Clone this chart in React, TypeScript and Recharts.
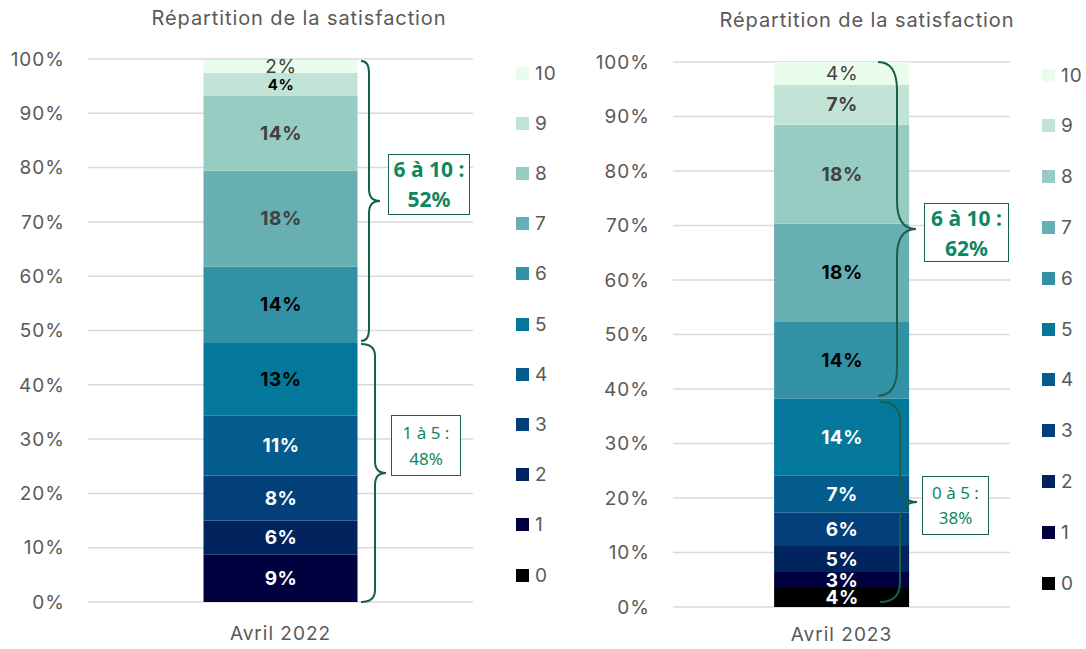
import { BarChart, Bar, XAxis, YAxis, CartesianGrid, LabelList } from 'recharts'

const SCORES = ['0', '1', '2', '3', '4', '5', '6', '7', '8', '9', '10']
const VALUES_2022 = [0, 8.7, 6.3, 8.3, 11.0, 13.4, 14.1, 17.6, 13.8, 4.2, 2.4]
const VALUES_2023 = [3.5, 2.9, 4.8, 6.1, 6.8, 14.1, 14.1, 18.0, 18.2, 7.3, 4.2]
const Y_TICKS = [0, 10, 20, 30, 40, 50, 60, 70, 80, 90, 100]
const CATEGORY_2022 = 'Avril 2022'
const CATEGORY_2023 = 'Avril 2023'
const TITLE = 'Répartition de la satisfaction'

const COLORS = [
  '#000000', '#00003F', '#01235E', '#033F79', '#045C8D', '#03789B',
  '#3391A6', '#67AFB3', '#96CCC2', '#C1E4D7', '#EAFCEC',
]

// label style per score: [color, bold, fontSize]
type LabelStyle = [string, boolean, number]
const LABELS_2022: LabelStyle[] = [
  ['#fff', true, 19], ['#fff', true, 19], ['#fff', true, 19], ['#fff', true, 19],
  ['#fff', true, 19], ['#000', true, 19], ['#000', true, 19], ['#404040', true, 19],
  ['#404040', true, 19], ['#000', true, 15], ['#404040', false, 19],
]
const LABELS_2023: LabelStyle[] = [
  ['#fff', true, 19], ['#fff', true, 19], ['#fff', true, 19], ['#fff', true, 19],
  ['#fff', true, 19], ['#fff', true, 19], ['#000', true, 19], ['#000', true, 19],
  ['#404040', true, 19], ['#404040', true, 19], ['#404040', false, 19],
]

const FONT = 'Inter, "Noto Sans", sans-serif'
const BOX_FONT = '"Noto Sans", "Open Sans", sans-serif'
const GRID = '#D9D9D9'
const TEXT = '#595959'
const BRACE = '#17604A'
const GREEN = '#0E8760'

function toRow(name: string, values: number[]) {
  const row: Record<string, string | number> = { name }
  SCORES.forEach((s, i) => (row['s' + s] = values[i]))
  return [row]
}

const sum = (arr: number[], from: number, to: number) =>
  arr.slice(from, to + 1).reduce((a, b) => a + b, 0)

function makeLabel(style: LabelStyle) {
  return (props: any) => {
    const { x, y, width, height, value } = props
    if (!value) return null
    const [color, bold, size] = style
    return (
      <text
        x={x + width / 2 + 0.5}
        y={y + height / 2}
        textAnchor="middle"
        dominantBaseline="central"
        fill={color}
        fontWeight={bold ? 700 : 400}
        fontSize={size}
        fontFamily={FONT}
        letterSpacing={0.5}
      >
        {Math.round(value)}%
      </text>
    )
  }
}

interface PanelProps {
  left: number
  width: number
  top: number
  bottom: number
  yAxisWidth: number
  rightMargin: number
  tickGap: number
  values: number[]
  labels: LabelStyle[]
  category: string
}

function Panel({ left, width, top, bottom, yAxisWidth, rightMargin, tickGap, values, labels, category }: PanelProps) {
  return (
    <div style={{ position: 'absolute', left, top: 0 }}>
      <BarChart
        width={width}
        height={649}
        data={toRow(category, values)}
        margin={{ top, right: rightMargin, left: 0, bottom: 0 }}
        barCategoryGap="30%"
      >
        <CartesianGrid vertical={false} stroke={GRID} strokeWidth={1.5} />
        <XAxis
          dataKey="name"
          height={bottom}
          axisLine={false}
          tickLine={false}
          tickSize={0}
          tickMargin={tickGap}
          tick={{ fontSize: 19, fill: TEXT, fontFamily: FONT, letterSpacing: 1 }}
        />
        <YAxis
          domain={[0, 100]}
          ticks={Y_TICKS}
          width={yAxisWidth}
          axisLine={false}
          tickLine={false}
          tickSize={0}
          tickMargin={23}
          tickFormatter={(v) => `${v}%`}
          tick={{ fontSize: 19, fill: TEXT, fontFamily: FONT, letterSpacing: 1 }}
        />
        {SCORES.map((s, i) => (
          <Bar key={s} dataKey={'s' + s} stackId="a" fill={COLORS[i]} isAnimationActive={false}>
            <LabelList dataKey={'s' + s} content={makeLabel(labels[i])} />
          </Bar>
        ))}
      </BarChart>
    </div>
  )
}

function Legend({ x, y0, step }: { x: number; y0: number; step: number }) {
  const items = SCORES.map((s, i) => ({ s, c: COLORS[i] })).reverse()
  return (
    <>
      {items.map((it, k) => (
        <div
          key={it.s}
          style={{
            position: 'absolute',
            left: x,
            top: y0 + k * step - 11,
            height: 22,
            display: 'flex',
            alignItems: 'center',
            fontFamily: FONT,
            fontSize: 19,
            letterSpacing: 1,
            color: TEXT,
          }}
        >
          <span style={{ width: 13, height: 13, background: it.c, marginRight: 6, display: 'inline-block' }} />
          {it.s}
        </div>
      ))}
    </>
  )
}

function bracePath(x0: number, xv: number, xtip: number, yt: number, yb: number, ry: number) {
  const ym = (yt + yb) / 2
  return [
    `M ${x0} ${yt}`,
    `Q ${xv} ${yt} ${xv} ${yt + ry}`,
    `L ${xv} ${ym - ry}`,
    `Q ${xv} ${ym} ${xtip} ${ym}`,
    `Q ${xv} ${ym} ${xv} ${ym + ry}`,
    `L ${xv} ${yb - ry}`,
    `Q ${xv} ${yb} ${x0} ${yb}`,
  ].join(' ')
}

function Box({ x, y, w, h, lines, bold, size, lh }: { x: number; y: number; w: number; h: number; lines: string[]; bold: boolean; size: number; lh: number }) {
  return (
    <div
      style={{
        position: 'absolute',
        left: x,
        top: y,
        width: w,
        height: h,
        boxSizing: 'border-box',
        border: `1.5px solid ${BRACE}`,
        background: '#fff',
        color: GREEN,
        fontFamily: BOX_FONT,
        fontWeight: bold ? 700 : 400,
        fontSize: size,
        lineHeight: `${lh}px`,
        textAlign: 'center',
        display: 'flex',
        flexDirection: 'column',
        justifyContent: 'center',
        whiteSpace: 'nowrap',
      }}
    >
      {lines.map((l) => (
        <div key={l}>{l}</div>
      ))}
    </div>
  )
}

// plot geometry (must match the Panel margins)
const L_TOP = 59
const L_H = 543
const R_TOP = 62
const R_H = 545
const yL = (v: number) => L_TOP + (1 - v / 100) * L_H
const yR = (v: number) => R_TOP + (1 - v / 100) * R_H

const titleStyle = {
  position: 'absolute' as const,
  width: 598,
  textAlign: 'center' as const,
  fontFamily: FONT,
  fontSize: 20,
  letterSpacing: 0.9,
  color: TEXT,
}

export default function App() {
  const low22 = sum(VALUES_2022, 1, 5)
  const high22 = sum(VALUES_2022, 6, 10)
  const low23 = sum(VALUES_2023, 0, 5)
  const high23 = sum(VALUES_2023, 6, 10)
  const lTop = yL(low22 + high22)
  const lMid = yL(low22)
  const lBot = yL(0)
  const rTop = yR(low23 + high23)
  const rMid = yR(low23)
  const rBot = yR(0)

  return (
    <div style={{ position: 'relative', width: 1086, height: 649, background: '#fff', overflow: 'hidden' }}>
      <style>{'body{margin:0}'}</style>
      <div style={{ ...titleStyle, left: 0, top: 6 }}>{TITLE}</div>
      <div style={{ ...titleStyle, left: 568, top: 8 }}>{TITLE}</div>
      <Panel left={0} width={560} top={L_TOP} bottom={47} yAxisWidth={88} rightMargin={87} tickGap={25} values={VALUES_2022} labels={LABELS_2022} category={CATEGORY_2022} />
      <Panel left={560} width={526} top={R_TOP} bottom={42} yAxisWidth={113} rightMargin={76} tickGap={21} values={VALUES_2023} labels={LABELS_2023} category={CATEGORY_2023} />
      <Legend x={516} y0={73} step={50.2} />
      <Legend x={1042} y0={75} step={50.8} />
      <svg width={1086} height={649} style={{ position: 'absolute', left: 0, top: 0, pointerEvents: 'none' }}>
        <g fill="none" stroke={BRACE} strokeWidth={2}>
          <path d={bracePath(361, 369, 380, lTop + 1, lMid - 2, 12)} />
          <path d={bracePath(361, 375, 386, lMid + 1, lBot, 12)} />
          <path d={bracePath(878, 897, 916, rTop, rMid - 3, 28)} />
          <path d={bracePath(880, 900, 917, rMid + 3, rBot - 5, 20)} />
        </g>
      </svg>
      <Box x={388} y={(lTop + lMid) / 2 - 48} w={82} h={61} bold size={21} lh={30} lines={['6 à 10 :', `${Math.round(high22)}%`]} />
      <Box x={391} y={(lMid + lBot) / 2 - 57} w={70} h={61} bold={false} size={17} lh={26} lines={['1 à 5 :', `${Math.round(low22)}%`]} />
      <Box x={924} y={(rTop + rMid) / 2 - 27} w={85} h={59} bold size={21} lh={30} lines={['6 à 10 :', `${Math.round(high23)}%`]} />
      <Box x={922} y={(rMid + rBot) / 2 - 27} w={67} h={59} bold={false} size={17} lh={25} lines={['0 à 5 :', `${Math.round(low23)}%`]} />
    </div>
  )
}
